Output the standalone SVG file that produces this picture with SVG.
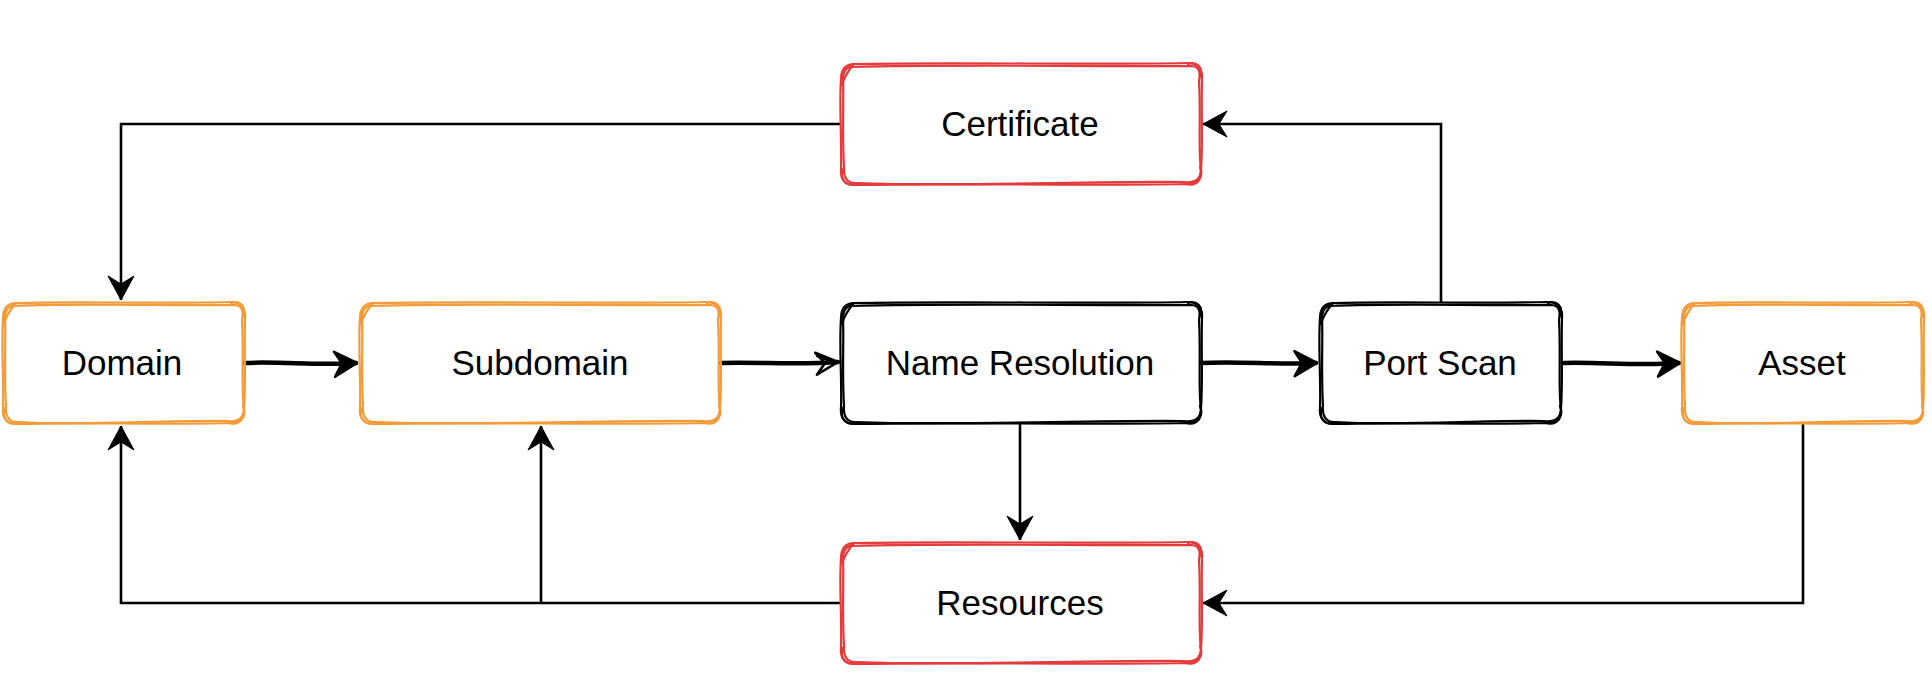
<svg xmlns="http://www.w3.org/2000/svg" width="1932" height="678" viewBox="0 0 1932 678">
<style>
.lbl{font-family:"Liberation Sans",Arial,sans-serif;font-size:35px;fill:#000;text-anchor:middle}
.sk{fill:none;stroke-width:2.2;stroke-linejoin:round;stroke-linecap:round}
.o{stroke:#F29B38}
.r{stroke:#E5393B}
.k{stroke:#000}
.ln{fill:none;stroke:#000;stroke-width:2.6}
.th{fill:none;stroke:#000;stroke-width:4.5;stroke-linecap:round}
</style>
<defs>
<marker id="a" viewBox="-28 -16 30 32" markerWidth="30" markerHeight="32" refX="0" refY="0" orient="auto" markerUnits="userSpaceOnUse">
<path d="M0,0 L-24,-13 L-16,0 L-24,13 Z" fill="#000" stroke="#000" stroke-width="1" stroke-linejoin="round"/>
</marker>
<marker id="s" viewBox="-28 -16 30 32" markerWidth="30" markerHeight="32" refX="0" refY="0" orient="auto" markerUnits="userSpaceOnUse">
<path d="M1,0 L-21,-13 L-14,-1 L-22,12 Z" fill="#000" stroke="#000" stroke-width="2.5" stroke-linejoin="round"/>
</marker>
<marker id="op" viewBox="-28 -16 30 32" markerWidth="30" markerHeight="32" refX="0" refY="0" orient="auto" markerUnits="userSpaceOnUse">
<path d="M0,0 L-22,-11 L-13,0 L-22,11 Z M-1,1 L-21,-8" fill="none" stroke="#000" stroke-width="2.6" stroke-linejoin="round"/>
</marker>
<g id="big">
<path d="M14,1 C120,-1 250,2 348,0 C358,0 363,8 362,16 C361,50 363,80 361,106 C361,116 356,122 346,121 C250,123 110,120 15,122 C5,122 0,116 1,106 C2,75 -1,45 1,16 C1,6 6,1 14,1 Z"/>
<path d="M10,4 C130,1 240,4 352,3 C361,4 360,12 359,18 C361,55 358,85 361,108 C360,118 353,120 344,119 C240,118 120,124 17,120 C7,121 3,114 4,104 C2,70 4,40 3,14 C4,7 6,4 10,4 Z"/>
<path d="M2,22 C0,12 6,4 14,1 C8,8 4,14 2,22 M348,1 C356,-2 364,4 360,14 M360,104 C364,114 358,124 346,121 M16,121 C6,124 -1,116 3,106"/>
</g>
<g id="sm">
<path d="M14,1 C80,-1 160,2 229,0 C239,0 244,8 243,16 C242,50 244,80 242,106 C242,116 237,122 227,121 C160,123 80,120 15,122 C5,122 0,116 1,106 C2,75 -1,45 1,16 C1,6 6,1 14,1 Z"/>
<path d="M10,4 C90,1 150,4 233,3 C242,4 241,12 240,18 C242,55 239,85 242,108 C241,118 234,120 225,119 C160,118 80,124 17,120 C7,121 3,114 4,104 C2,70 4,40 3,14 C4,7 6,4 10,4 Z"/>
<path d="M2,22 C0,12 6,4 14,1 C8,8 4,14 2,22 M229,1 C237,-2 245,4 241,14 M241,104 C245,114 239,124 227,121 M16,121 C6,124 -1,116 3,106"/>
</g>
</defs>
<rect width="1932" height="678" fill="#fff"/>
<g id="connectors">
<path class="ln" d="M840,124 H121 V300" marker-end="url(#a)"/>
<path class="ln" d="M1441,302 V124 H1203" marker-end="url(#a)"/>
<path class="ln" d="M1020,424 V540" marker-end="url(#a)"/>
<path class="ln" d="M1803,424 V603 H1203" marker-end="url(#a)"/>
<path class="ln" d="M840,603 H121 V426" marker-end="url(#a)"/>
<path class="ln" d="M541,603 V426" marker-end="url(#a)"/>
<path class="th" d="M244,363 C280,361 320,366 356,363" marker-end="url(#s)"/>
<path class="th" d="M721,363 C760,362 800,365 838,362" marker-end="url(#op)"/>
<path class="th" d="M1201,363 C1240,361 1280,365 1316,363" marker-end="url(#s)"/>
<path class="th" d="M1564,363 C1600,362 1640,366 1679,363" marker-end="url(#s)"/>
</g>
<g id="certificate">
<use href="#big" x="840" y="63" class="sk r"/>
<text class="lbl" x="1020" y="136">Certificate</text>
</g>
<g id="domain">
<use href="#sm" x="2" y="302" class="sk o"/>
<text class="lbl" x="122" y="375">Domain</text>
</g>
<g id="subdomain">
<use href="#big" x="359" y="302" class="sk o"/>
<text class="lbl" x="540" y="375">Subdomain</text>
</g>
<g id="name-resolution">
<use href="#big" x="840" y="302" class="sk k"/>
<text class="lbl" x="1020" y="375">Name Resolution</text>
</g>
<g id="port-scan">
<use href="#sm" x="1319" y="302" class="sk k"/>
<text class="lbl" x="1440" y="375">Port Scan</text>
</g>
<g id="asset">
<use href="#sm" x="1681" y="302" class="sk o"/>
<text class="lbl" x="1802" y="375">Asset</text>
</g>
<g id="resources">
<use href="#big" x="840" y="542" class="sk r"/>
<text class="lbl" x="1020" y="615">Resources</text>
</g>
</svg>
